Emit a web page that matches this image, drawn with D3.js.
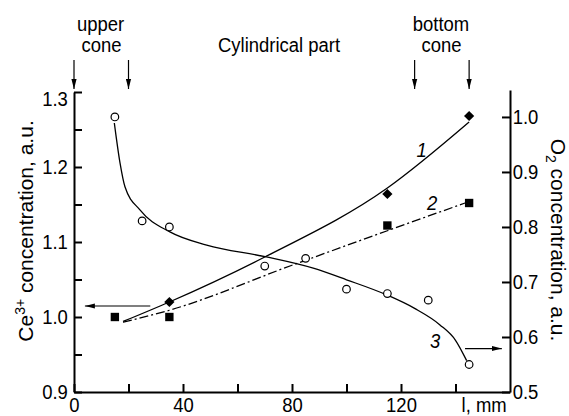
<!DOCTYPE html>
<html>
<head>
<meta charset="utf-8">
<script src="https://cdn.jsdelivr.net/npm/d3@7"></script>
<style>
    html, body { margin: 0; padding: 0; background: #fff; }
    svg { display: block; font-family: "Liberation Sans", Arial, Helvetica, sans-serif; }
</style>
</head>
<body>
<svg id="chart" width="569" height="416"></svg>
<script>
// Measured points (l, mm)
const circleX = [15, 25, 35, 70, 85, 100, 115, 130, 145];
const circleO2 = [1.0, 0.811, 0.80, 0.729, 0.743, 0.687, 0.679, 0.667, 0.55];
const diamondX = [35, 115, 145];
const diamondCe = [1.02, 1.164, 1.268];
const squareX = [15, 35, 115, 145];
const squareCe = [1.0, 1.0, 1.122, 1.152];

// Fitted curves
const curve1X = [18, 35, 70, 115, 145];
const curve1Ce = [0.994, 1.02, 1.08, 1.172, 1.26];
const curve2X = [18, 35, 80, 115, 143.5];
const curve2Ce = [0.993, 1.009, 1.069, 1.115, 1.152];
const curve3X = [14.8, 16.9, 18.7, 24.2, 35.2, 48.7, 70.1, 87.8, 100, 115, 125, 134.3, 140, 144.1];
const curve3O2 = [0.989, 0.916, 0.873, 0.831, 0.791, 0.767, 0.746, 0.725, 0.704, 0.676, 0.652, 0.622, 0.594, 0.557];

// Ticks
const xTicks = [0, 20, 40, 60, 80, 100, 120, 140];
const xLabels = [0, 40, 80, 120];
const ceTicks = [0.9, 0.95, 1.0, 1.05, 1.1, 1.15, 1.2, 1.25, 1.3];
const ceLabels = [0.9, 1.0, 1.1, 1.2, 1.3];
const o2Ticks = [0.5, 0.6, 0.7, 0.8, 0.9, 1.0];

// Zone boundaries along the column
const zoneMarks = [0, 20, 125, 145];

const svg = d3.select('#chart');
const FS = 21;          // font size
const SQ = 0.88;        // horizontal squeeze of the original lettering

const x = d3.scaleLinear().domain([0, 160]).range([74, 510]);
const yCe = d3.scaleLinear().domain([0.9, 1.3]).range([392, 92]);
const yO2 = d3.scaleLinear().domain([0.5, 1.049]).range([392, 90]);

// arrowhead
svg.append('defs').append('marker')
    .attr('id', 'head')
    .attr('markerUnits', 'userSpaceOnUse')
    .attr('viewBox', '0 -3 10 6')
    .attr('refX', 10).attr('refY', 0)
    .attr('markerWidth', 10).attr('markerHeight', 6)
    .attr('orient', 'auto')
    .append('path')
    .attr('d', 'M0,-2.6L10,0L0,2.6Z')
    .attr('fill', '#000');

function styleAxis(g) {
    g.select('.domain').attr('stroke', '#000').attr('stroke-width', 2);
    g.selectAll('.tick line').attr('stroke', '#000').attr('stroke-width', 2);
    g.selectAll('.tick text')
        .attr('fill', '#000')
        .style('font-size', FS + 'px')
        .attr('transform', `scale(${SQ},1)`);
}

// bottom axis
svg.append('g')
    .attr('transform', `translate(0,${yCe(0.9)})`)
    .call(d3.axisBottom(x).tickValues(xTicks).tickSizeInner(-8).tickSizeOuter(0).tickPadding(5)
        .tickFormat(d => xLabels.includes(d) ? d : ''))
    .call(styleAxis);

// left axis
const leftAxis = svg.append('g')
    .attr('transform', `translate(${x(0)},0)`)
    .call(d3.axisLeft(yCe).tickValues(ceTicks).tickSizeInner(-8).tickSizeOuter(0).tickPadding(7)
        .tickFormat(d => ceLabels.some(v => Math.abs(v - d) < 1e-9) ? d3.format('.1f')(d) : ''))
    .call(styleAxis);
leftAxis.selectAll('.tick text').filter(d => d === 1.3).attr('dy', '0.62em');

// right axis
svg.append('g')
    .attr('transform', `translate(${x(160)},0)`)
    .call(d3.axisRight(yO2).tickValues(o2Ticks).tickSizeInner(-8).tickSizeOuter(0).tickPadding(3)
        .tickFormat(d3.format('.1f')))
    .call(styleAxis);

function hText(px, py, str, anchor, extra) {
    const t = svg.append('text')
        .attr('transform', `translate(${px},${py}) scale(${SQ},1)`)
        .attr('text-anchor', anchor || 'middle')
        .style('font-size', FS + 'px')
        .attr('fill', '#000')
        .text(str);
    if (extra) extra(t);
    return t;
}

// x axis unit
hText(x(150.5), 411.5, 'l, mm');

// zone annotations
hText(100.5, 31, 'upper');
hText(101.5, 52, 'cone');
hText(218, 52, 'Cylindrical part', 'start');
hText(441, 31, 'bottom');
hText(441.5, 52, 'cone');

svg.selectAll('line.zone')
    .data(zoneMarks)
    .join('line')
    .attr('class', 'zone')
    .attr('x1', d => x(d)).attr('x2', d => x(d))
    .attr('y1', 60).attr('y2', 89)
    .attr('stroke', '#000').attr('stroke-width', 1.2)
    .attr('marker-end', 'url(#head)');

// axis titles
const leftTitle = svg.append('text')
    .attr('transform', 'translate(33,231) rotate(-90)')
    .attr('text-anchor', 'middle')
    .style('font-size', FS + 'px');
leftTitle.append('tspan').text('Ce');
leftTitle.append('tspan').attr('dy', -8).style('font-size', '14px').text('3+');
leftTitle.append('tspan').attr('dy', 8).text(' concentration, a.u.');

const rightTitle = svg.append('text')
    .attr('transform', 'translate(551,240) rotate(90)')
    .attr('text-anchor', 'middle')
    .style('font-size', FS + 'px');
rightTitle.append('tspan').text('O');
rightTitle.append('tspan').attr('dy', 5).style('font-size', '14px').text('2');
rightTitle.append('tspan').attr('dy', -5).text(' concentration, a.u.');

// curves
const zip = (xs, ys) => xs.map((v, i) => [v, ys[i]]);
const lineCe = d3.line().x(d => x(d[0])).y(d => yCe(d[1])).curve(d3.curveMonotoneX);
const lineO2 = d3.line().x(d => x(d[0])).y(d => yO2(d[1])).curve(d3.curveMonotoneX);

svg.append('path')
    .attr('d', lineCe(zip(curve1X, curve1Ce)))
    .attr('fill', 'none').attr('stroke', '#000').attr('stroke-width', 1.3);
svg.append('path')
    .attr('d', lineCe(zip(curve2X, curve2Ce)))
    .attr('fill', 'none').attr('stroke', '#000').attr('stroke-width', 1.3)
    .attr('stroke-dasharray', '9,3,2,3');
svg.append('path')
    .attr('d', lineO2(zip(curve3X, curve3O2)))
    .attr('fill', 'none').attr('stroke', '#000').attr('stroke-width', 1.3);

// markers
svg.selectAll('circle.o2')
    .data(zip(circleX, circleO2))
    .join('circle')
    .attr('class', 'o2')
    .attr('cx', d => x(d[0])).attr('cy', d => yO2(d[1]))
    .attr('r', 3.8)
    .attr('fill', '#fff').attr('stroke', '#000').attr('stroke-width', 1.2);

svg.selectAll('path.diamond')
    .data(zip(diamondX, diamondCe))
    .join('path')
    .attr('class', 'diamond')
    .attr('d', d3.symbol(d3.symbolSquare, 52))
    .attr('transform', d => `translate(${x(d[0])},${yCe(d[1])}) rotate(45)`)
    .attr('fill', '#000');

svg.selectAll('path.square')
    .data(zip(squareX, squareCe))
    .join('path')
    .attr('class', 'square')
    .attr('d', d3.symbol(d3.symbolSquare, 70))
    .attr('transform', d => `translate(${x(d[0])},${yCe(d[1])})`)
    .attr('fill', '#000');

// curve numbers
const curveTags = [
    { label: '1', lx: 127.6, y: yCe(1.214) },
    { label: '2', lx: 131.4, y: yCe(1.143) },
    { label: '3', lx: 132.5, y: yO2(0.58) }
];
curveTags.forEach(t => hText(x(t.lx), t.y, t.label, 'middle', s => s.style('font-style', 'italic')));

// arrows pointing to the axis each group belongs to
svg.append('line')
    .attr('x1', x(28)).attr('x2', x(4))
    .attr('y1', yCe(1.0147)).attr('y2', yCe(1.0147))
    .attr('stroke', '#000').attr('stroke-width', 1.2)
    .attr('marker-end', 'url(#head)');
svg.append('line')
    .attr('x1', x(143.5)).attr('x2', x(157))
    .attr('y1', yO2(0.579)).attr('y2', yO2(0.579))
    .attr('stroke', '#000').attr('stroke-width', 1.2)
    .attr('marker-end', 'url(#head)');
</script>
</body>
</html>
